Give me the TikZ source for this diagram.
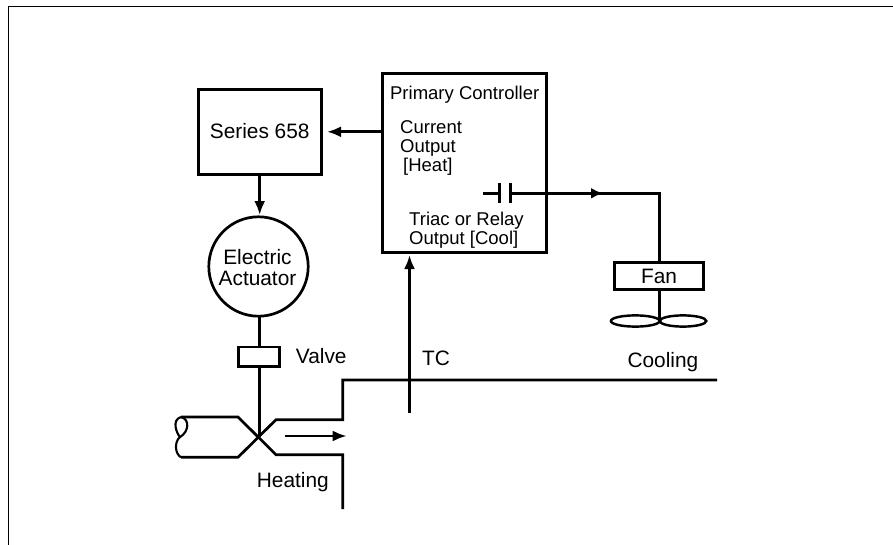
\documentclass[tikz,border=0pt]{standalone}
\usepackage{fontspec}
\setmainfont{Liberation Sans}
\usetikzlibrary{arrows.meta, calc}
\def\px{0.3mm}
\tikzset{
  txt/.style={inner sep=0pt, anchor=base west, align=left, font=\fontsize{17.8}{17.9}\selectfont},
  smalltxt/.style={txt, font=\fontsize{15.8}{16.2}\selectfont},
  blockbox/.style={draw, line width=2.3pt, outer sep=0pt, inner sep=0pt, align=center},
  wire/.style={line width=2.3pt},
  flow/.style={line width=2.3pt, -{Latex[length=14*\px, width=11*\px]}}
}

\begin{document}
\begin{tikzpicture}[x=\px, y=-\px]
\useasboundingbox (0,0) rectangle (893,545);
% page frame
\coordinate (frameA) at (8.5,545);
\coordinate (frameB) at (8.5,6.5);
\coordinate (frameC) at (893,6.5);
\draw[line width=1.7pt] (frameA) -- (frameB) -- (frameC);

% blocks
\node[blockbox, minimum width=123*\px, minimum height=85*\px] (series) at (259.7,131.8) {};
\node[txt, anchor=base] (serieslabel) at (259.7,139) {Series 658};
\node[blockbox, circle, minimum size=99.4*\px] (actuator) at (258.5,266.5) {};
\node[txt, anchor=base, align=center] (actuatorlabel) at (257.5,285) {Electric\\Actuator};
\node[blockbox, minimum width=41*\px, minimum height=19.7*\px] (valve) at (258.7,356.8) {};
\node[blockbox, minimum width=163.4*\px, minimum height=178.4*\px] (primary) at (464.5,163) {};
\node[blockbox, minimum width=89*\px, minimum height=27*\px] (fan) at (658.8,275.8) {};
\node[txt, anchor=base] (fanlabel) at (659,283) {Fan};

% labels
\node[smalltxt, anchor=base] (primarylabel) at (464.7,100) {Primary Controller};
\node[smalltxt] (currentlabel) at (400,171.7) {Current\\Output\\\hspace{2.5pt}[Heat]};
\node[smalltxt] (triaclabel) at (409,244) {Triac or Relay\\Output [Cool]};
\node[txt] (valvelabel) at (295.7,363) {Valve};
\node[txt] (heatinglabel) at (256.7,487.7) {Heating};
\node[txt] (tclabel) at (422,365.7) {TC};
\node[txt] (coolinglabel) at (627.3,367.7) {Cooling};

% signal lines
\coordinate (seriestip) at (327,131.8);
\coordinate (actuatortip) at (259.7,215);
\coordinate (cross) at (259.7,436.7);
\draw[flow] (primary.west |- seriestip) -- (seriestip);
\draw[flow] (series.south) -- (actuatortip);
\draw[wire] (actuator.south -| cross) -- (valve.north -| cross);
\draw[wire] (valve.south -| cross) -- (cross);

% contact
\coordinate (contactin) at (483,193.3);
\coordinate (plateA) at (499.3,193.3);
\coordinate (plateB) at (510.3,193.3);
\coordinate (fantip) at (603,193.3);
\coordinate (fanjoin) at (597,193.3);
\coordinate (fancorner) at (659.7,193.3);
\draw[wire] (contactin) -- (plateA);
\draw[wire] (499.3,182.7) -- (499.3,203);
\draw[wire] (510.3,182.7) -- (510.3,203);
\draw[flow, -{Latex[length=12*\px, width=11*\px]}] (plateB) -- (fantip);
\draw[wire] (fanjoin) -- (fancorner) -- (fancorner |- fan.north);

% fan blades
\coordinate (hub) at (659.7,321);
\draw[wire] (fan.south -| hub) -- (hub);
\draw[line width=2.1pt] (635.3,321) ellipse [x radius=24.4, y radius=5.6];
\draw[line width=2.1pt] (683,321) ellipse [x radius=23.3, y radius=5.6];

% pipe
\draw[wire] (181,417) -- (238,417) -- (276,454.7) -- (342.7,454.7) -- (342.7,509);
\draw[wire] (181,457.3) -- (238,457.3) -- (276,419.7) -- (342.7,419.7) -- (342.7,380) -- (717,380);
\draw[line width=1.8pt] (181,417) .. controls (171,420) and (177,434) .. (180,437) .. controls (174,442) and (175,454) .. (181,457.3);
\draw[line width=1.8pt] (181,417) .. controls (190,419) and (189,432) .. (180,437);
\coordinate (flowstart) at (285,436);
\coordinate (flowtip) at (346.7,436);
\draw[flow] (flowstart) -- (flowtip);

% thermocouple
\coordinate (tcstart) at (409.5,412.7);
\coordinate (tctip) at (409.5,255);
\draw[flow] (tcstart) -- (tctip);
\end{tikzpicture}
\end{document}
